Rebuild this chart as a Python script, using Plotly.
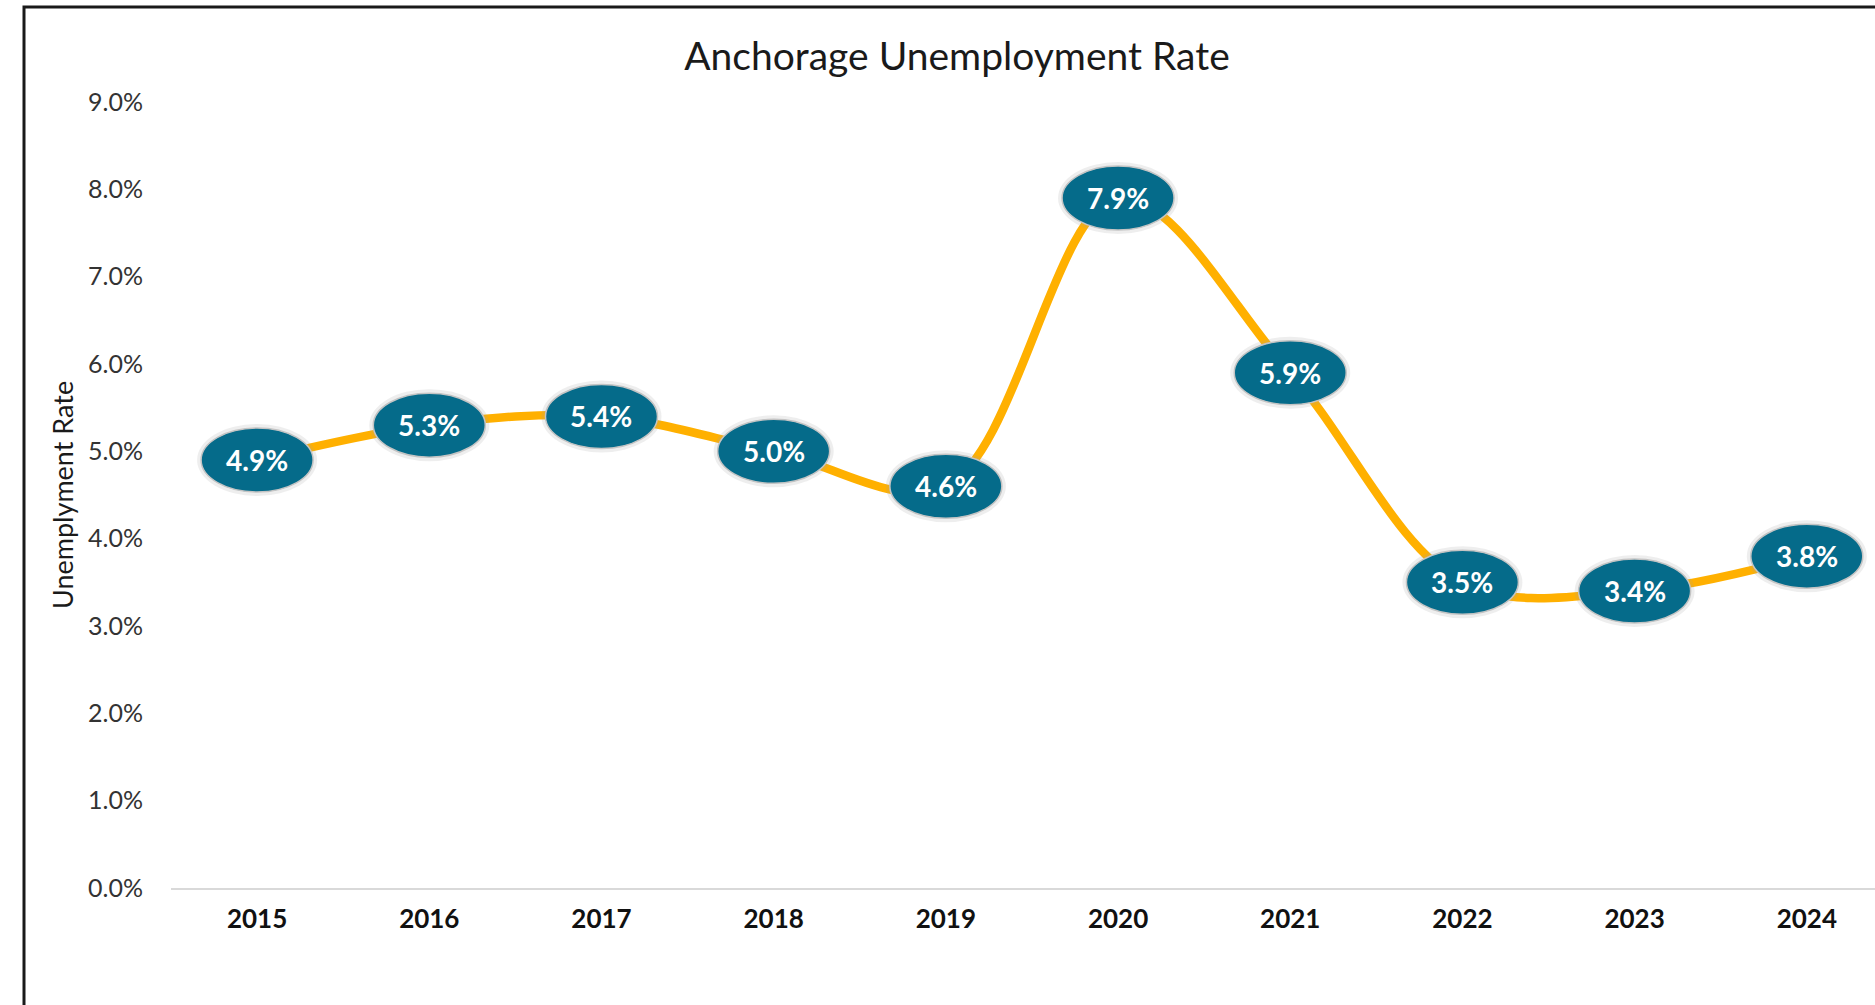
import plotly.graph_objects as go

years = ["2015", "2016", "2017", "2018", "2019", "2020", "2021", "2022", "2023", "2024"]
rates = [4.9, 5.3, 5.4, 5.0, 4.6, 7.9, 5.9, 3.5, 3.4, 3.8]
y_ticks = [0, 1, 2, 3, 4, 5, 6, 7, 8, 9]

TEAL = "#056B8A"
GOLD = "#FFB000"
FONT = "Lato"

fig = go.Figure()
fig.add_trace(go.Scatter(
    x=list(range(len(years))), y=rates, mode="lines",
    line=dict(color=GOLD, width=8.5, shape="spline", smoothing=1.0),
    hoverinfo="skip", showlegend=False,
))

shapes = []
annotations = []
for i, v in enumerate(rates):
    # soft halo
    shapes.append(dict(type="circle", xref="x", yref="y", xsizemode="pixel", ysizemode="pixel",
                       xanchor=i, yanchor=v, x0=-60, x1=60, y0=-36, y1=36,
                       fillcolor="rgba(160,160,160,0.18)", line=dict(width=0), layer="above"))
    shapes.append(dict(type="circle", xref="x", yref="y", xsizemode="pixel", ysizemode="pixel",
                       xanchor=i, yanchor=v, x0=-56, x1=56, y0=-32, y1=32,
                       fillcolor=TEAL, line=dict(color="#c4c4c4", width=1.5), layer="above"))
    annotations.append(dict(x=i, y=v, xref="x", yref="y", text=f"{v:.1f}%", showarrow=False,
                            font=dict(family=FONT, size=28, color="white", weight="bold"),
                            xanchor="center", yanchor="middle"))

# outer frame (left and top edges visible)
shapes.append(dict(type="rect", xref="paper", yref="paper",
                   x0=(24 - 171) / 1704, x1=1.05, y0=-0.3, y1=(888 - 7) / 786,
                   line=dict(color="#1a1a1a", width=3), fillcolor="rgba(0,0,0,0)", layer="below"))

annotations.append(dict(text="Unemplyment Rate", xref="paper", yref="paper",
                        x=(62 - 171) / 1704, y=0.5, textangle=-90, showarrow=False,
                        xanchor="center", yanchor="middle",
                        font=dict(family=FONT, size=27, color="#1a1a1a")))

fig.update_layout(
    width=1875, height=1005, autosize=False,
    margin=dict(l=171, r=0, t=102, b=117),
    paper_bgcolor="white", plot_bgcolor="white",
    title=dict(text="Anchorage Unemployment Rate", x=957 / 1875, xref="container", xanchor="center",
               y=1 - 56 / 1005, yref="container", yanchor="middle",
               font=dict(family=FONT, size=39, color="#1a1a1a")),
    shapes=shapes, annotations=annotations,
    xaxis=dict(range=[-0.5, 9.396], tickmode="array", tickvals=list(range(len(years))), ticktext=years,
               showgrid=False, zeroline=False, showline=True, linecolor="#d9d9d9", linewidth=2,
               ticks="", ticklabelstandoff=7,
               tickfont=dict(family=FONT, size=26, color="#111111", weight="bold")),
    yaxis=dict(range=[0, 9], tickvals=y_ticks, ticktext=[f"{t:.1f}%" for t in y_ticks],
               showgrid=False, zeroline=False, showline=False, ticks="", ticklabelstandoff=27,
               tickfont=dict(family=FONT, size=25, color="#333333")),
)

fig.write_html("out.html", config={"displayModeBar": False})
